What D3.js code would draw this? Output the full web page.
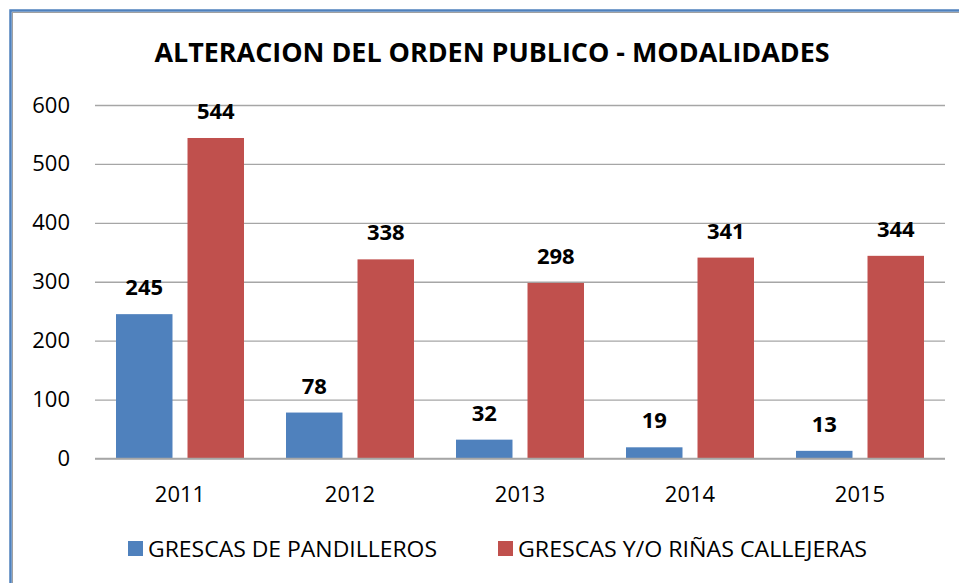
<!DOCTYPE html>
<html>
<head>
<meta charset="utf-8">
<script src="https://cdn.jsdelivr.net/npm/d3@7"></script>
<style>
  html, body { margin: 0; padding: 0; background: #fff; }
  svg { display: block; font-family: "Open Sans", sans-serif; }
</style>
</head>
<body>
<div id="chart"></div>
<script>
const years = ['2011', '2012', '2013', '2014', '2015'];
const pandilleros = [245, 78, 32, 19, 13];
const rinas = [544, 338, 298, 341, 344];
const seriesNames = ['GRESCAS DE PANDILLEROS', 'GRESCAS Y/O RIÑAS CALLEJERAS'];
const seriesColors = ['#4f81bd', '#c0504d'];
const yTicks = [0, 100, 200, 300, 400, 500, 600];

const width = 959, height = 583;
const margin = { top: 105, right: 14, bottom: 125, left: 95 };

const svg = d3.select('#chart').append('svg')
    .attr('width', width)
    .attr('height', height);

// Frame (blue border with grey inner line)
svg.append('rect')
    .attr('x', 10.5).attr('y', 10.5)
    .attr('width', width + 10).attr('height', height + 10)
    .attr('fill', 'none')
    .attr('stroke', '#4f81bd')
    .attr('stroke-width', 2.5);
svg.append('rect')
    .attr('x', 12.5).attr('y', 12.5)
    .attr('width', width + 10).attr('height', height + 10)
    .attr('fill', 'none')
    .attr('stroke', '#a0a0a0')
    .attr('stroke-width', 1);

// Title
svg.append('text')
    .attr('x', 492).attr('y', 62)
    .attr('text-anchor', 'middle')
    .attr('font-size', 26)
    .attr('font-weight', 'bold')
    .attr('fill', '#000')
    .attr('textLength', 675)
    .attr('lengthAdjust', 'spacingAndGlyphs')
    .text('ALTERACION DEL ORDEN PUBLICO - MODALIDADES');

const plotW = width - margin.left - margin.right;
const plotH = height - margin.top - margin.bottom;

const g = svg.append('g').attr('transform', `translate(${margin.left},${margin.top})`);

const x0 = d3.scaleBand().domain(years).range([0, plotW]);
const x1 = d3.scaleBand().domain([0, 1]).range([21, x0.bandwidth() - 21]).paddingInner(0.21);
const y = d3.scaleLinear().domain([0, 600]).range([plotH + 0.5, 0]);

// Gridlines + y labels
const yAxis = d3.axisLeft(y).tickValues(yTicks).tickSize(-plotW).tickPadding(25);
const yg = g.append('g').call(yAxis);
yg.select('.domain').remove();
yg.selectAll('line').attr('stroke', '#a6a6a6').attr('stroke-width', 1.3);
yg.selectAll('text')
    .attr('font-size', 22)
    .attr('fill', '#000')
    .attr('font-family', '"Open Sans", sans-serif');

// Bars
const data = years.map((yr, i) => ({ year: yr, values: [pandilleros[i], rinas[i]] }));
const groups = g.selectAll('g.cat').data(data).join('g')
    .attr('class', 'cat')
    .attr('transform', d => `translate(${x0(d.year)},0)`);

groups.selectAll('rect').data(d => d.values).join('rect')
    .attr('x', (d, i) => x1(i))
    .attr('width', x1.bandwidth())
    .attr('y', d => y(d))
    .attr('height', d => y(0) - y(d))
    .attr('fill', (d, i) => seriesColors[i]);

groups.selectAll('text.val').data(d => d.values).join('text')
    .attr('class', 'val')
    .attr('x', (d, i) => x1(i) + x1.bandwidth() / 2)
    .attr('y', d => y(d) - 19)
    .attr('text-anchor', 'middle')
    .attr('font-size', 22)
    .attr('font-weight', 'bold')
    .attr('fill', '#000')
    .text(d => d);

// x axis line and labels
g.append('line')
    .attr('x1', 0).attr('x2', plotW)
    .attr('y1', y(0)).attr('y2', y(0))
    .attr('stroke', '#a6a6a6').attr('stroke-width', 1.3);

g.selectAll('text.year').data(years).join('text')
    .attr('class', 'year')
    .attr('x', d => x0(d) + x0.bandwidth() / 2)
    .attr('y', plotH + 44)
    .attr('text-anchor', 'middle')
    .attr('font-size', 22)
    .attr('fill', '#000')
    .text(d => d);

// Legend
const legendItems = [
    { name: seriesNames[0], color: seriesColors[0], x: 128, w: 289 },
    { name: seriesNames[1], color: seriesColors[1], x: 498, w: 349 }
];
const lg = svg.append('g').selectAll('g').data(legendItems).join('g')
    .attr('transform', d => `translate(${d.x},541)`);
lg.append('rect')
    .attr('width', 15).attr('height', 15)
    .attr('fill', d => d.color);
lg.append('text')
    .attr('x', 20).attr('y', 16)
    .attr('font-size', 21)
    .attr('fill', '#000')
    .attr('textLength', d => d.w)
    .attr('lengthAdjust', 'spacingAndGlyphs')
    .text(d => d.name);
</script>
</body>
</html>
